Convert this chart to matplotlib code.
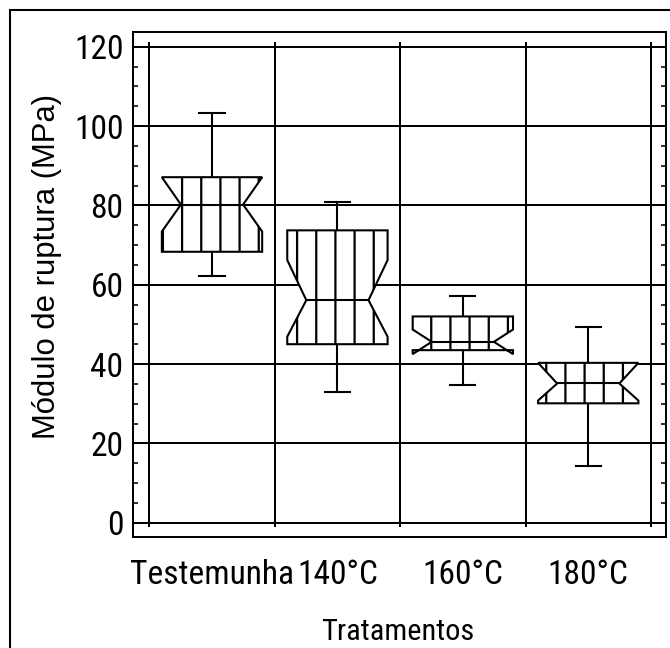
import matplotlib
matplotlib.use("Agg")
import matplotlib.pyplot as plt
from matplotlib.patches import Rectangle
from matplotlib.ticker import MultipleLocator

# box plot data (MPa)
categories = ['Testemunha', '140°C', '160°C', '180°C']
whisker_low = [62.3, 32.9, 34.6, 14.2]
q1 = [68.3, 45.0, 43.5, 30.1]
medians = [80.2, 56.1, 45.6, 35.1]
q3 = [87.1, 73.7, 52.0, 40.3]
whisker_high = [103.2, 80.8, 57.2, 49.3]
means = [79.3, 57.8, 46.2, 33.7]
notch_low = [73.4, 46.9, 42.5, 30.8]
notch_high = [87.1, 66.2, 48.7, 40.3]

narrow = ['Roboto Condensed', 'Liberation Sans Narrow', 'Roboto', 'Liberation Sans']
plt.rcParams['hatch.linewidth'] = 1.4

dpi = 115
fig = plt.figure(figsize=(670 / dpi, 648 / dpi), dpi=dpi)
ax = fig.add_axes([133 / 670, 1 - 537 / 648, 533 / 670, 505 / 648])

stats = []
for i in range(len(categories)):
    stats.append(dict(label=categories[i], whislo=whisker_low[i], q1=q1[i],
                      med=medians[i], q3=q3[i], whishi=whisker_high[i],
                      mean=means[i], cilo=notch_low[i], cihi=notch_high[i],
                      fliers=[]))

positions = list(range(1, len(categories) + 1))
bp = ax.bxp(stats, positions=positions, widths=0.8, capwidths=0.2,
            shownotches=True, showmeans=True, patch_artist=True,
            manage_ticks=False,
            boxprops=dict(facecolor='white', edgecolor='black', linewidth=1.3, hatch='|'),
            medianprops=dict(color='black', linewidth=1.3),
            whiskerprops=dict(color='black', linewidth=1.3),
            capprops=dict(color='black', linewidth=1.3),
            meanprops=dict(marker='+', markeredgecolor='red', markersize=6.5,
                           markeredgewidth=1.0))

# notch waist is a bit wider than matplotlib's default half width
for b, med in zip(bp['boxes'], bp['medians']):
    b.set_zorder(3)
    v = b.get_path().vertices
    c = (v[0, 0] + v[1, 0]) / 2
    half = (v[1, 0] - v[0, 0]) / 2 * 0.62
    v[3, 0] = c + half
    v[8, 0] = c - half
    med.set_xdata([c - half, c + half])
    med.set_zorder(4)

# grid: horizontal at majors, vertical between categories
ax.set_xlim(0.37, len(categories) + 0.62)
ax.set_ylim(-3.6, 123.7)
ax.yaxis.set_major_locator(MultipleLocator(20))
ax.yaxis.set_minor_locator(MultipleLocator(5))
ax.grid(axis='y', color='black', linewidth=1.25)
bounds = [p - 0.5 for p in positions] + [positions[-1] + 0.5]
ax.vlines(bounds, -1.1, 121.2, color='black', linewidth=1.25, zorder=1)
ax.set_axisbelow(True)

ax.set_xticks(positions)
ax.set_xticklabels(categories, family=narrow, stretch='condensed', fontsize=21)
ax.tick_params(axis='x', length=0, pad=14)
ax.tick_params(axis='y', which='major', length=0, pad=6)
ax.tick_params(axis='y', which='minor', direction='in', length=3.3, width=1.0,
               left=True, right=True)
for lab in ax.get_yticklabels():
    lab.set_family(narrow)
    lab.set_stretch('condensed')
    lab.set_fontsize(21)
for s in ax.spines.values():
    s.set_linewidth(1.25)

ax.set_ylabel('Módulo de ruptura (MPa)', family='Liberation Sans', fontsize=19.5)
ax.yaxis.set_label_coords(-0.133, 0.535)
ax.set_xlabel('Tratamentos', family=narrow, stretch='condensed', fontsize=19)
ax.xaxis.set_label_coords(0.497, -0.16)

# outer frame (only top and left edges fall inside the picture)
fig.patches.append(Rectangle((10 / 670, -0.2), 1.2, 1 - 10 / 648 + 0.2,
                             transform=fig.transFigure, fill=False,
                             edgecolor='black', linewidth=1.3))

fig.savefig('out.png', dpi=dpi)
